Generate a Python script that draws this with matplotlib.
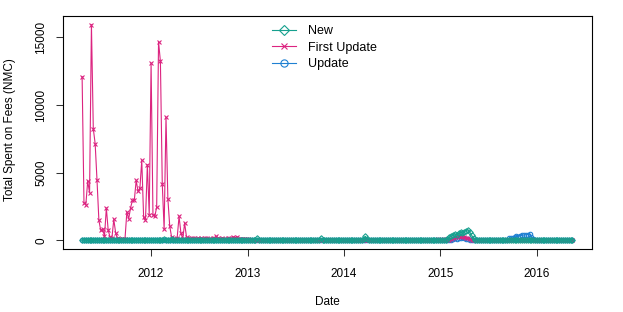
import numpy as np
import pandas as pd
import matplotlib
matplotlib.use('Agg')
import matplotlib.pyplot as plt
from matplotlib.lines import Line2D
import matplotlib.dates as mdates

# weekly observations, Apr 2011 - May 2016
dates = pd.date_range('2011-04-15', '2016-05-15', periods=264)

first_update = [
    12100, 2790, 2640, 4380, 3520, 15950, 8250, 7150, 4430, 1480,
    740, 860, 300, 2390, 740, 240, 200, 1550, 540, 150,
    120, 100, 100, 100, 2090, 1600, 2420, 2960, 2960, 4430,
    3620, 3870, 5910, 1720, 1530, 5590, 1900, 13100, 1900, 1770,
    2460, 14700, 13230, 4190, 810, 9090, 3080, 1060, 240, 100,
    130, 200, 1770, 540, 110, 1280, 240,
    150, 120, 180, 140, 110, 160, 130, 150, 120, 170,
    140, 110, 130, 160, 150, 300, 140, 120, 150, 130,
    110, 140, 160, 120, 250, 190, 270, 130, 110, 100,
    90, 80, 70, 60,
    40, 35, 50, 30, 45, 60, 38, 42, 30, 55, 48, 36, 40, 52, 33, 45, 39, 50, 41, 36,
    30, 44, 38, 51, 35, 40, 47, 32, 55, 38, 42, 36, 49, 31, 45, 40, 37, 53, 34, 41,
    46, 39, 33, 50, 42, 36, 48, 30, 44, 38, 52, 35, 41, 47, 33, 40, 55, 37, 43, 39,
    35, 48, 41, 30, 46, 38, 53, 36, 42, 49, 31, 44, 39, 50, 34, 47, 40, 36, 52, 38,
    43, 37, 51, 33, 45, 40, 48, 35, 42, 56, 38, 44, 30, 47, 41, 36, 50, 39, 45, 60,
    70, 55, 48, 65, 52, 80,
    60, 120, 180, 250, 220, 300, 260, 330, 280, 200, 150, 90, 50, 30,
    40, 35, 30, 42, 38, 33, 45, 30, 36, 41, 34, 39, 32, 44, 37, 31, 40, 35, 43, 38,
    30, 42, 36, 33, 47, 39, 31, 44, 35, 40, 37, 32, 45, 38, 34, 41, 30, 43, 36, 39,
    33, 46, 38, 31, 42, 35, 40, 37, 44, 32, 36, 41, 34,
]

new = [
    20, 25, 30, 22, 28, 35, 24, 30, 26, 32, 27, 22, 30, 25, 28, 33, 24, 29, 26, 31,
    25, 30, 22, 28, 35, 26, 31, 24, 29, 33, 27, 22, 30, 26, 45, 28, 32, 25, 60, 30,
    28, 35, 25, 30, 70, 40, 33, 28, 85, 45, 30, 26, 35, 28, 32, 25, 30, 38, 27, 33,
    29, 26, 34, 30, 25, 31, 28, 36, 27, 30, 24, 33, 29, 26, 35, 28, 31, 25, 30, 27,
    33, 29, 26, 32, 28, 35, 30, 27, 31, 26, 34, 29, 30, 28,
    170,
    60, 35, 30, 28, 33, 26, 31, 29, 35, 27, 30, 32, 28, 34, 26, 31, 29, 36, 27, 30,
    33, 28, 31, 26, 35, 29, 30, 27, 34, 28, 32, 45, 60,
    170,
    55, 32, 28, 31, 27, 34, 29, 30, 26, 33, 28, 31, 35, 27, 30, 29, 32, 26, 34, 28,
    31, 45, 80,
    300,
    90, 40, 30, 28, 33, 27, 31, 29, 35, 26, 30, 32, 28, 34, 27, 31, 29, 36, 26, 30,
    33, 28, 31, 27, 35, 29, 30, 26, 34, 28, 32, 30, 27, 33, 29, 31, 26, 35, 28, 30,
    32, 40, 55, 90,
    240, 300, 400, 490, 420, 520, 590, 540, 650, 720, 790, 610, 370, 150,
    60, 35, 28, 32, 27, 30, 26, 34, 29, 31, 28, 33, 27, 30, 35, 26, 32, 29, 31, 28,
    34, 27, 30, 33, 26, 31, 29, 35, 28, 30, 27, 32, 29, 26, 34, 30, 28, 31, 27, 33,
    29, 32, 26, 30, 35, 28, 31, 27, 33, 29, 30, 26, 32,
]

update = [
    10, 12, 8, 15, 11, 9, 14, 10, 13, 8, 12, 16, 9, 11, 14, 10, 8, 13, 12, 9,
    11, 9, 14, 10, 12, 8, 15, 11, 13, 9, 10, 14, 8, 12, 11, 15, 9, 13, 10, 12,
    13, 10, 9, 14, 12, 11, 8, 15, 10, 13, 9, 12, 14, 11, 10, 8, 13, 12, 15, 9,
    9, 14, 11, 10, 13, 12, 8, 15, 11, 9, 14, 10, 12, 13, 8, 11, 15, 9, 10, 12,
    12, 8, 13, 11, 9, 15, 10, 14, 12, 8, 11, 13, 9, 15, 10, 12, 14, 8, 11, 13,
    14, 11, 10, 12, 8, 13, 15, 9, 11, 14, 10, 12, 8, 13, 9, 11, 15, 10, 12, 14,
    8, 13, 12, 9, 14, 10, 11, 15, 8, 12, 13, 9, 10, 14, 11, 8, 12, 15, 9, 13,
    11, 15, 9, 13, 10, 12, 14, 8, 11, 9, 15, 13, 10, 12, 8, 14, 11, 9, 13, 10,
    15, 9, 12, 10, 14, 11, 8, 13, 9, 12, 10, 15, 11, 8, 14, 12, 9, 13, 11, 10,
    12, 10, 14, 9, 11, 13, 8, 15, 10, 12, 9, 14, 11, 13, 8, 20, 25,
    30, 60, 100, 150, 120, 180, 200, 230, 160, 120, 80, 50, 30, 15,
    12, 10, 14, 9, 13, 11, 8, 15, 12, 10, 14, 9, 11, 13, 20, 25,
    40, 60, 150, 200, 180, 250, 300, 280, 350, 370, 400, 420, 430, 440, 250, 80, 30,
    15, 12, 10, 14, 9, 13, 11, 8, 12, 10, 14, 9, 11, 13, 10, 12, 9, 14, 11, 10,
]

labels = ['New', 'First Update', 'Update']
colors = ['#16a08e', '#dc2480', '#1f80d2']
markers = ['D', 'x', 'o']
msizes = [2.8, 3.0, 3.2]

plt.rcParams['font.family'] = ['Liberation Sans', 'DejaVu Sans']

fig = plt.figure(figsize=(6.23, 3.12), dpi=100)
W, H = 623, 312
ax = fig.add_axes([62.5 / W, 1 - 249 / H, (592 - 62.5) / W, (249 - 16) / H])

series = [new, first_update, update]
# draw order: Update, First Update, New (New on top)
for k in [2, 1, 0]:
    ax.plot(dates, series[k], color=colors[k], lw=0.8, marker=markers[k],
            ms=msizes[k], mfc='none', mew=0.8, zorder=3 + (2 - k))

x0 = dates[0]
x1 = dates[-1]
span = x1 - x0
ax.set_xlim(x0 - span * 0.04, x1 + span * 0.04)
ymax = max(first_update)
ax.set_ylim(-ymax * 0.04, ymax * 1.04)

ax.xaxis.set_major_locator(mdates.YearLocator())
ax.xaxis.set_major_formatter(mdates.DateFormatter('%Y'))
ax.set_yticks([0, 5000, 10000, 15000])
ax.tick_params(direction='out', length=5, width=0.75, labelsize=8.5, color='#333333')
ax.tick_params(axis='x', pad=8.5)
ax.tick_params(axis='y', pad=6, labelrotation=90)
for t in ax.get_yticklabels():
    t.set_va('center')
for s in ax.spines.values():
    s.set_linewidth(0.8)

fig.text(10.5 / W, 1 - 130 / H, 'Total Spent on Fees (NMC)', rotation=90,
         ha='center', va='center', fontsize=8.5)
fig.text(327 / W, 1 - 302 / H, 'Date', ha='center', va='center', fontsize=8.5)

handles = [Line2D([], [], color=colors[k], lw=0.8, marker=markers[k], ms=msizes[k] + 2,
                  mfc='none', mew=0.8) for k in range(3)]
fig.legend(handles, labels, loc='upper left', bbox_to_anchor=(272 / W, 1 - 25 / H),
           frameon=False, fontsize=9, handlelength=1.95, handletextpad=0.95,
           labelspacing=0.36, borderpad=0, borderaxespad=0)

fig.savefig('out.png', dpi=100)
